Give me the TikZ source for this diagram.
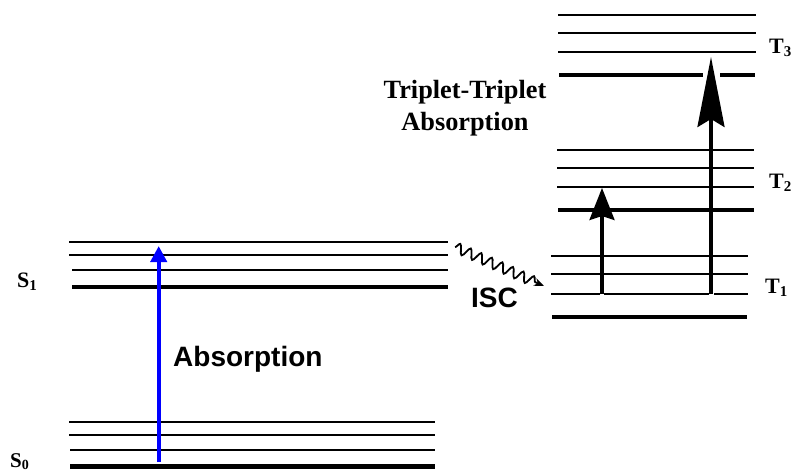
\documentclass[tikz,border=0pt]{standalone}
\usepackage{fontspec}
\setmainfont{Liberation Serif}
\newfontfamily\arialfont{Liberation Sans}
\usetikzlibrary{arrows.meta,decorations.pathmorphing}
\newcommand{\lev}[2]{#1\raisebox{-3pt}{\fontsize{15}{15}\selectfont #2}}
\begin{document}
\begin{tikzpicture}[x=1pt,y=-1pt,
  thinlvl/.style={line width=1.7pt},
  midlvl/.style={line width=2.6pt},
  heavylvl/.style={line width=4.5pt},
  lvllabel/.style={font=\fontsize{22}{22}\selectfont\bfseries, anchor=base west, inner sep=0pt},
  sanslabel/.style={font=\arialfont\fontsize{28}{28}\selectfont\bfseries, anchor=base west, inner sep=0pt},
  blackarrow/.style={line width=3.3pt, black}]
\useasboundingbox (0,0) rectangle (796,474);
\fill[white] (0,0) rectangle (796,474);
% S1 levels
\draw[thinlvl] (69,242) -- (448,242);
\draw[thinlvl] (69,255) -- (448,255);
\draw[midlvl] (72,270) -- (448,270);
\draw[heavylvl] (72,287) -- (448,287);
% S0 levels
\draw[thinlvl] (69,422) -- (435,422);
\draw[thinlvl] (69,435) -- (435,435);
\draw[midlvl] (70,450) -- (435,450);
\draw[heavylvl] (70,466.5) -- (435,466.5);
% T3 levels
\draw[line width=2.2pt] (558,15) -- (756,15);
\draw[line width=2.2pt] (558,33) -- (756,33);
\draw[line width=2pt] (558,52) -- (756,52);
\draw[line width=4pt] (559,75) -- (703,75);
\draw[line width=4pt] (720,75) -- (755,75);
% T2 levels
\draw[line width=2pt] (557,150) -- (754,150);
\draw[line width=2pt] (557,168) -- (754,168);
\draw[line width=1.8pt] (557,187) -- (754,187);
\draw[line width=4pt] (558,210) -- (754,210);
% T1 levels
\draw[thinlvl] (551,256) -- (748,256);
\draw[thinlvl] (551,274) -- (748,274);
\draw[thinlvl] (551,294) -- (600,294);
\draw[thinlvl] (604,294) -- (709,294);
\draw[thinlvl] (714,294) -- (748,294);
\draw[line width=4pt] (552,317) -- (747,317);
% labels
\node[lvllabel] (s1) at (17,287) {\lev{S}{1}};
\node[lvllabel, font=\fontsize{21}{21}\selectfont\bfseries] (s0) at (10,467) {S\raisebox{-2.5pt}{\fontsize{14}{14}\selectfont 0}};
\node[lvllabel] (t3) at (769,53) {\lev{T}{3}};
\node[lvllabel] (t2) at (769,188) {\lev{T}{2}};
\node[lvllabel] (t1) at (765,293) {\lev{T}{1}};
\node[sanslabel] (abs) at (173,366) {Absorption};
\node[sanslabel] (isc) at (471,307) {ISC};
\node[font=\fontsize{26.3}{32}\selectfont\bfseries, align=center, inner sep=0pt, anchor=base] (tta) at (465,130) {Triplet-Triplet\\Absorption};
% arrows
\coordinate (blueA) at (158.7,462);
\coordinate (blueB) at (158.7,246);
\draw[line width=4pt, blue, -{Triangle[length=16pt,width=16pt]}] (blueA) -- (blueB);
\coordinate (smallA) at (602,294);
\coordinate (smallB) at (602,188);
\draw[blackarrow, -{Stealth[length=32pt,width=25pt,inset=4pt]}] (smallA) -- (smallB);
\coordinate (bigA) at (711,294);
\coordinate (bigB) at (711,57);
\draw[blackarrow, -{Stealth[length=70pt,width=27pt,inset=8pt]}] (bigA) -- (bigB);
\coordinate (iscA) at (455,247);
\coordinate (iscB) at (544,286);
\draw[line width=1.8pt, decorate, decoration={snake, segment length=11.5pt, amplitude=5pt, post length=7pt}, -{Stealth[length=10pt,width=8pt]}] (iscA) -- (iscB);
\end{tikzpicture}
\end{document}
